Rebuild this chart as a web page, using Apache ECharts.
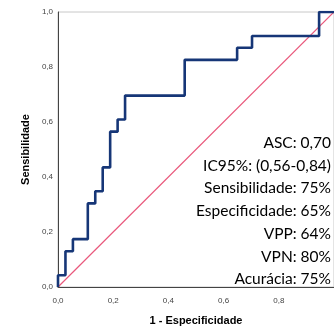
<!DOCTYPE html>
<html lang="pt">
<head>
  <meta charset="UTF-8">
  <script src="https://cdn.jsdelivr.net/npm/echarts@6/dist/echarts.min.js"></script>
  <style>
    html, body { margin: 0; padding: 0; background: #fff; }
    #container { width: 334px; height: 331px; }
  </style>
</head>
<body>
  <div id="container"></div>
  <script>
    // curva ROC (cantos da escada)
    var fpr = [0, 0, 0.027, 0.027, 0.054, 0.054, 0.108, 0.108, 0.135, 0.135, 0.162, 0.162, 0.189, 0.189,
      0.216, 0.216, 0.243, 0.243, 0.459, 0.459, 0.649, 0.649, 0.703, 0.703, 0.946, 0.946, 1];
    var tpr = [0, 0.043, 0.043, 0.130, 0.130, 0.174, 0.174, 0.304, 0.304, 0.348, 0.348, 0.435, 0.435, 0.565,
      0.565, 0.609, 0.609, 0.696, 0.696, 0.826, 0.826, 0.870, 0.870, 0.913, 0.913, 1, 1];
    // linha de referencia
    var refX = [0, 1];
    var refY = [0, 1];
    var statsLines = ['ASC: 0,70', 'IC95%: (0,56-0,84)', 'Sensibilidade: 75%', 'Especificidade: 65%',
      'VPP: 64%', 'VPN: 80%', 'Acurácia: 75%'];

    var myChart = echarts.init(document.getElementById('container'));

    var zip = function (xs, ys) {
      var res = [];
      for (var i = 0; i < xs.length; i++) res.push([xs[i], ys[i]]);
      return res;
    };
    var fmt = function (v) { return v.toFixed(1).replace('.', ','); };

    // uma caixa de texto por linha, alinhadas à direita
    var statsText = statsLines.map(function (s, i) {
      return {
        type: 'text', right: 3, top: 135 + i * 22.7,
        style: { text: s, fill: '#000', font: '15.5px Lato' }
      };
    });

    var option = {
      animation: false,
      grid: { left: 58, top: 12, width: 286, height: 286, show: true, borderColor: '#c8c8c8', borderWidth: 1 },
      xAxis: {
        type: 'value', min: 0, max: 1, interval: 0.2,
        name: '1 - Especificidade', nameLocation: 'middle', nameGap: 28,
        nameTextStyle: { fontFamily: 'Liberation Sans', fontWeight: 'bold', fontSize: 11, color: '#000' },
        axisLine: { show: true, lineStyle: { color: '#444', width: 1 } },
        axisTick: { show: false },
        splitLine: { show: false },
        axisLabel: { formatter: fmt, fontFamily: 'Liberation Sans', fontSize: 8, color: '#444', margin: 10, showMaxLabel: false }
      },
      yAxis: {
        type: 'value', min: 0, max: 1, interval: 0.2,
        name: 'Sensibilidade', nameLocation: 'middle', nameGap: 21,
        nameTextStyle: { fontFamily: 'Liberation Sans', fontWeight: 'bold', fontSize: 11, color: '#000' },
        axisLine: { show: true, lineStyle: { color: '#444', width: 1 } },
        axisTick: { show: false },
        splitLine: { show: false },
        axisLabel: { formatter: fmt, fontFamily: 'Liberation Sans', fontSize: 8, color: '#444', margin: 5 }
      },
      series: [
        {
          type: 'line', data: zip(refX, refY), symbol: 'none', silent: true,
          lineStyle: { color: '#e9587c', width: 1.2 }
        },
        {
          type: 'line', data: zip(fpr, tpr), symbol: 'none', silent: true,
          lineStyle: { color: '#163677', width: 2.6 }
        }
      ],
      graphic: statsText
    };

    myChart.setOption(option);
  </script>
</body>
</html>
